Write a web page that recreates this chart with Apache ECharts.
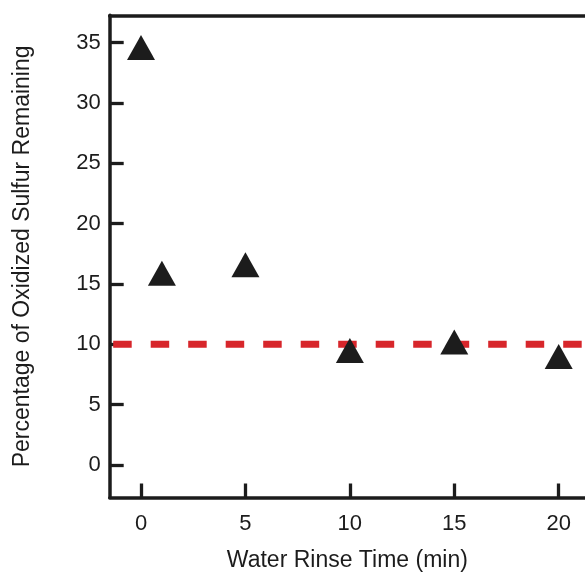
<!DOCTYPE html>
<html>
<head>
<meta charset="utf-8">
<title>Oxidized Sulfur Remaining vs Water Rinse Time</title>
<script src="https://cdn.jsdelivr.net/npm/echarts@6/dist/echarts.min.js"></script>
<style>
  html, body { margin: 0; padding: 0; background: #fff; }
  #chart { width: 585px; height: 578px; }
</style>
</head>
<body>
<div id="chart"></div>
<script>
// Rinse times (min) and remaining oxidized sulfur (%)
const rinseTime = [0, 1, 5, 10, 15, 20];
const sulfurPct = [34.6, 15.9, 16.6, 9.5, 10.2, 9.0];
// Reference level drawn as a dashed line
const referenceLevel = 10;
// Tick positions
const xTicks = [0, 5, 10, 15, 20];
const yTicks = [0, 5, 10, 15, 20, 25, 30, 35];

const xRange = [-1.5, 21.26];
const yRange = [-2.69, 37.27];

const ink = '#1c1c1c';
const font = 'Liberation Sans, Arial, Helvetica, sans-serif';

const chart = echarts.init(document.getElementById('chart'), null, { renderer: 'canvas' });

chart.setOption({
  animation: false,
  backgroundColor: '#ffffff',
  grid: { left: 109.7, right: 0, top: 15.3, bottom: 80.5, containLabel: false },
  xAxis: [
    {
      type: 'value',
      min: xRange[0],
      max: xRange[1],
      name: 'Water Rinse Time (min)',
      nameLocation: 'middle',
      nameGap: 52,
      nameTextStyle: { fontFamily: font, fontSize: 23, color: ink },
      axisLine: { show: true, onZero: false, lineStyle: { color: ink, width: 3.5 } },
      axisTick: { show: true, inside: true, length: 14, customValues: xTicks, lineStyle: { color: ink, width: 3.3 } },
      axisLabel: { show: true, customValues: xTicks, margin: 15, fontFamily: font, fontSize: 22, color: ink },
      splitLine: { show: false }
    },
    {
      // top frame line
      type: 'value',
      position: 'top',
      min: xRange[0],
      max: xRange[1],
      axisLine: { show: true, onZero: false, lineStyle: { color: ink, width: 3.5 } },
      axisTick: { show: false },
      axisLabel: { show: false },
      splitLine: { show: false }
    }
  ],
  yAxis: {
    type: 'value',
    min: yRange[0],
    max: yRange[1],
    name: 'Percentage of Oxidized Sulfur Remaining',
    nameLocation: 'middle',
    nameGap: 76,
    nameTextStyle: { fontFamily: font, fontSize: 23, color: ink },
    axisLine: { show: true, onZero: false, lineStyle: { color: ink, width: 3.5 } },
    axisTick: { show: true, inside: true, length: 14, customValues: yTicks, lineStyle: { color: ink, width: 3.3 } },
    axisLabel: { show: true, customValues: yTicks, margin: 9, fontFamily: font, fontSize: 22, color: ink },
    splitLine: { show: false }
  },
  series: [
    {
      type: 'line',
      name: 'reference',
      z: 1,
      silent: true,
      symbol: 'none',
      data: [[xRange[0], referenceLevel], [xRange[1], referenceLevel]],
      lineStyle: { color: '#d7262b', width: 7, type: [18.5, 19], dashOffset: 34 }
    },
    {
      type: 'scatter',
      name: 'sulfur',
      z: 3,
      symbol: 'triangle',
      symbolSize: [28, 25],
      itemStyle: { color: ink, opacity: 1 },
      data: rinseTime.map((t, i) => [t, sulfurPct[i]])
    }
  ]
});
</script>
</body>
</html>
